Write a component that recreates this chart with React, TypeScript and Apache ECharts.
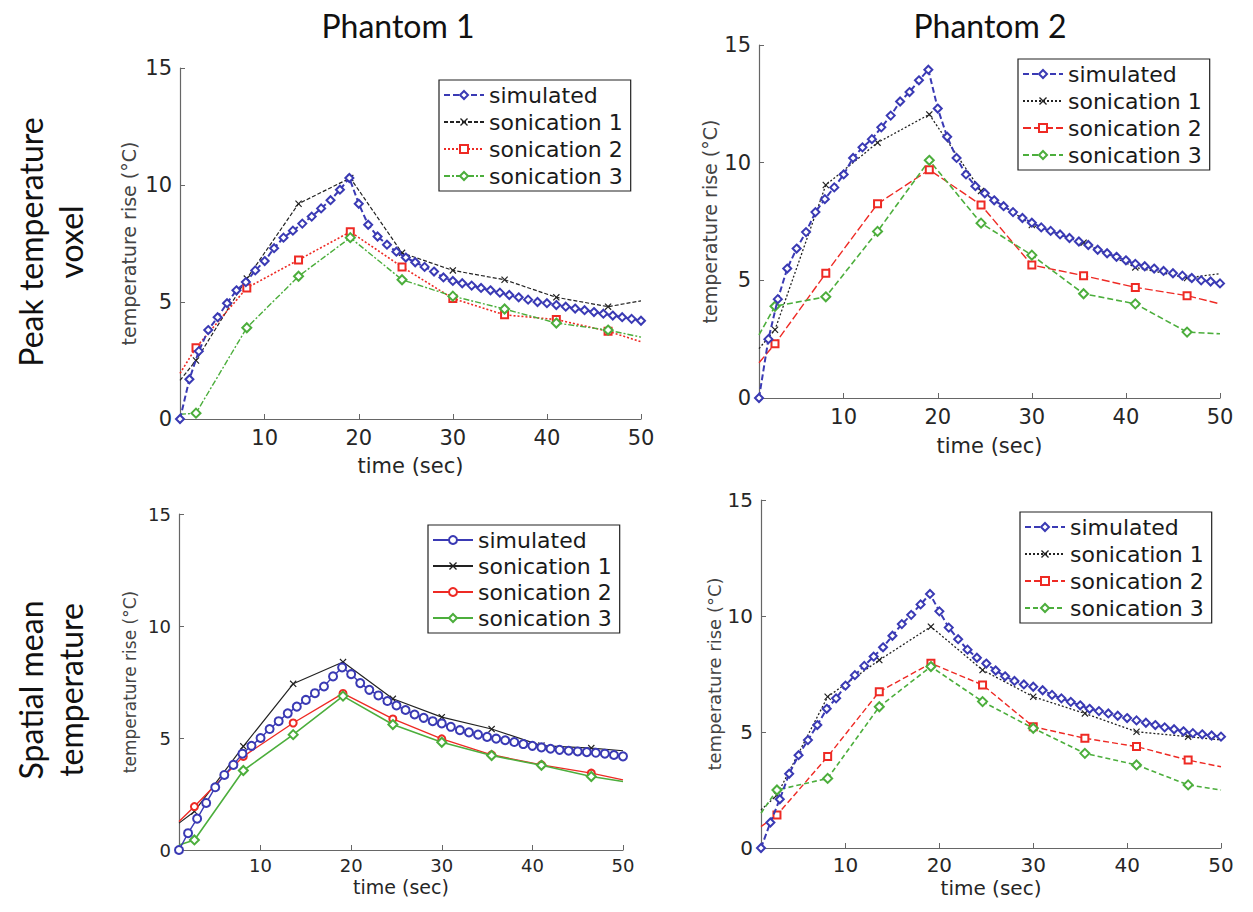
import React, { useEffect, useRef } from 'react';
import * as echarts from 'echarts';

// ---- data (time in seconds, temperature rise in °C) ----
const simTime = [1, 2, 3, 4, 5, 6, 7, 8, 9, 10, 11, 12, 13, 14, 15, 16, 17, 18, 19, 20, 21, 22, 23, 24, 25, 26, 27, 28, 29, 30, 31, 32, 33, 34, 35, 36, 37, 38, 39, 40, 41, 42, 43, 44, 45, 46, 47, 48, 49, 50];
const sonTime = [1, 2.7, 8.1, 13.6, 19.1, 24.6, 30, 35.5, 41, 46.5, 50];
const xTickValues = [10, 20, 30, 40, 50];
const seriesLabels = ['simulated', 'sonication 1', 'sonication 2', 'sonication 3'];
const columnTitles = ['Phantom 1', 'Phantom 2'];
const rowTitles = ['Peak temperature\nvoxel', 'Spatial mean\ntemperature'];

// Phantom 1, peak temperature voxel
const p1PeakSim = [0, 1.7, 2.9, 3.8, 4.35, 4.95, 5.5, 5.85, 6.35, 6.75, 7.3, 7.75, 8.05, 8.35, 8.65, 9.0, 9.35, 9.8, 10.3, 9.2, 8.3, 7.8, 7.45, 7.15, 6.9, 6.7, 6.5, 6.3, 6.05, 5.9, 5.8, 5.7, 5.6, 5.5, 5.4, 5.3, 5.2, 5.1, 5.0, 4.95, 4.87, 4.8, 4.72, 4.65, 4.57, 4.5, 4.42, 4.35, 4.28, 4.2];
const p1PeakSon1 = [1.65, 2.5, 6.0, 9.2, 10.3, 7.1, 6.35, 5.95, 5.2, 4.8, 5.05];
const p1PeakSon2 = [1.95, 3.05, 5.6, 6.8, 8.0, 6.5, 5.15, 4.45, 4.25, 3.75, 3.3];
const p1PeakSon3 = [0.2, 0.25, 3.9, 6.1, 7.75, 5.95, 5.25, 4.7, 4.1, 3.8, 3.5];

// Phantom 2, peak temperature voxel
const p2PeakSim = [0, 2.5, 4.2, 5.5, 6.35, 7.05, 7.9, 8.45, 8.95, 9.5, 10.2, 10.65, 11.0, 11.5, 12.0, 12.6, 13.0, 13.5, 13.95, 12.3, 11.1, 10.2, 9.5, 9.0, 8.7, 8.4, 8.15, 7.9, 7.65, 7.45, 7.25, 7.1, 6.95, 6.8, 6.65, 6.5, 6.3, 6.15, 6.0, 5.85, 5.7, 5.6, 5.5, 5.4, 5.3, 5.2, 5.1, 5.0, 4.95, 4.87];
const p2PeakSon1 = [2.1, 2.9, 9.05, 10.85, 12.05, 8.8, 7.35, 6.6, 5.55, 5.1, 5.28];
const p2PeakSon2 = [1.5, 2.3, 5.3, 8.25, 9.7, 8.2, 5.65, 5.2, 4.7, 4.35, 4.0];
const p2PeakSon3 = [2.68, 3.9, 4.3, 7.08, 10.1, 7.43, 6.07, 4.43, 4.0, 2.8, 2.73];

// Phantom 1, spatial mean temperature
const p1MeanSim = [0, 0.75, 1.4, 2.1, 2.8, 3.35, 3.8, 4.3, 4.65, 5.0, 5.4, 5.75, 6.1, 6.4, 6.7, 7.0, 7.3, 7.75, 8.15, 7.85, 7.45, 7.15, 6.9, 6.65, 6.45, 6.25, 6.05, 5.9, 5.75, 5.65, 5.5, 5.35, 5.25, 5.15, 5.05, 4.97, 4.9, 4.82, 4.73, 4.65, 4.58, 4.52, 4.47, 4.43, 4.4, 4.37, 4.34, 4.3, 4.24, 4.18];
const p1MeanSon1 = [1.2, 1.72, 4.63, 7.42, 8.39, 6.75, 5.93, 5.4, 4.66, 4.55, 4.43];
const p1MeanSon2 = [1.27, 1.94, 4.18, 5.67, 6.99, 5.85, 4.96, 4.25, 3.8, 3.43, 3.13];
const p1MeanSon3 = [0.22, 0.45, 3.55, 5.15, 6.87, 5.6, 4.81, 4.22, 3.78, 3.28, 3.06];

// Phantom 2, spatial mean temperature
const p2MeanSim = [0, 1.1, 2.1, 3.2, 4.0, 4.65, 5.3, 6.0, 6.45, 7.0, 7.45, 7.85, 8.25, 8.65, 9.15, 9.65, 10.05, 10.5, 10.95, 10.2, 9.5, 9.0, 8.55, 8.2, 7.95, 7.65, 7.4, 7.2, 7.05, 6.95, 6.8, 6.6, 6.45, 6.3, 6.15, 6.0, 5.9, 5.8, 5.7, 5.6, 5.5, 5.4, 5.3, 5.2, 5.12, 5.03, 4.95, 4.9, 4.85, 4.8];
const p2MeanSon1 = [1.64, 2.28, 6.52, 8.1, 9.54, 7.67, 6.52, 5.8, 5.01, 4.8, 4.66];
const p2MeanSon2 = [0.92, 1.42, 3.94, 6.74, 7.96, 7.03, 5.23, 4.73, 4.37, 3.79, 3.5];
const p2MeanSon3 = [1.5, 2.5, 3.0, 6.09, 7.82, 6.31, 5.16, 4.08, 3.58, 2.72, 2.5];

// ---- styling ----
const BLUE = '#3a3ab4';
const BLACK = '#222222';
const RED = '#ee2a24';
const GREEN = '#4cae3c';
const XMARK = 'path://M0,1.2L1.2,0L5,3.8L8.8,0L10,1.2L6.2,5L10,8.8L8.8,10L5,6.2L1.2,10L0,8.8L3.8,5Z';
const FONT = 'DejaVu Sans';

type Panel = {
  values: number[][];
  grid: { left: number; top: number; width: number; height: number };
  legend: { left: number; top: number; gap: number };
  fs: number;
  tickFs: number;
  tickMargin: number;
  xGap: number;
  yGap: number;
  types: any[];
  widths: number[];
  simSymbol: string;
  s2Symbol: string;
};

const panels: Panel[] = [
  {
    values: [p1PeakSim, p1PeakSon1, p1PeakSon2, p1PeakSon3],
    grid: { left: 180, top: 68, width: 461, height: 351 },
    legend: { left: 439, top: 80, gap: 5 },
    fs: 21, tickFs: 21, tickMargin: 8, xGap: 36, yGap: 42,
    types: [[6, 3], [4, 2], [2, 2], [6, 2, 2, 2]],
    widths: [2, 1.2, 1.6, 1.4],
    simSymbol: 'emptyDiamond', s2Symbol: 'emptyRect',
  },
  {
    values: [p2PeakSim, p2PeakSon1, p2PeakSon2, p2PeakSon3],
    grid: { left: 759, top: 45, width: 461, height: 353 },
    legend: { left: 1018, top: 59, gap: 5 },
    fs: 21, tickFs: 21, tickMargin: 8, xGap: 37, yGap: 40,
    types: [[6, 3], [2, 2], [8, 3], [6, 3]],
    widths: [2, 1.3, 1.4, 1.6],
    simSymbol: 'emptyDiamond', s2Symbol: 'emptyRect',
  },
  {
    values: [p1MeanSim, p1MeanSon1, p1MeanSon2, p1MeanSon3],
    grid: { left: 179, top: 514, width: 444, height: 336 },
    legend: { left: 428, top: 525, gap: 4 },
    fs: 19, tickFs: 18, tickMargin: 6, xGap: 27, yGap: 41,
    types: ['solid', 'solid', 'solid', 'solid'],
    widths: [1.4, 1.2, 1.4, 1.6],
    simSymbol: 'emptyCircle', s2Symbol: 'emptyCircle',
  },
  {
    values: [p2MeanSim, p2MeanSon1, p2MeanSon2, p2MeanSon3],
    grid: { left: 761, top: 500, width: 460, height: 348 },
    legend: { left: 1020, top: 512, gap: 5 },
    fs: 20, tickFs: 20, tickMargin: 7, xGap: 30, yGap: 36,
    types: [[6, 3], [2, 2], [6, 3], [5, 3]],
    widths: [2, 1.3, 1.4, 1.6],
    simSymbol: 'emptyDiamond', s2Symbol: 'emptyRect',
  },
];

function simPoints(vals: number[]) {
  return simTime.map((t, i) => [t, vals[i]]);
}
function sonPoints(vals: number[]) {
  return sonTime.map((t, i) =>
    i === 0 || i === sonTime.length - 1 ? { value: [t, vals[i]], symbol: 'none' } : [t, vals[i]]
  );
}

function buildOption() {
  const grid: any[] = [];
  const xAxis: any[] = [];
  const yAxis: any[] = [];
  const legend: any[] = [];
  const series: any[] = [];
  const colors = [BLUE, BLACK, RED, GREEN];

  panels.forEach((p, pi) => {
    grid.push({ ...p.grid, containLabel: false });
    xAxis.push({
      type: 'value', gridIndex: pi, min: 1, max: 50,
      name: 'time (sec)', nameLocation: 'middle', nameGap: p.xGap,
      nameTextStyle: { fontFamily: FONT, fontSize: p.fs, color: '#262626' },
      axisLine: { show: true, lineStyle: { color: '#666', width: 1.2 } },
      axisTick: { show: true, inside: true, length: 5, customValues: xTickValues, lineStyle: { color: '#666' } },
      axisLabel: { customValues: xTickValues, fontFamily: FONT, fontSize: p.tickFs, color: '#262626', margin: p.tickMargin },
      splitLine: { show: false },
    });
    yAxis.push({
      type: 'value', gridIndex: pi, min: 0, max: 15, interval: 5,
      name: 'temperature rise (°C)', nameLocation: 'middle', nameGap: p.yGap,
      nameTextStyle: { fontFamily: FONT, fontSize: p.fs - 2, color: '#444' },
      axisLine: { show: true, lineStyle: { color: '#666', width: 1.2 } },
      axisTick: { show: true, inside: true, length: 5, lineStyle: { color: '#666' } },
      axisLabel: { fontFamily: FONT, fontSize: p.tickFs, color: '#262626', margin: 8 },
      splitLine: { show: false },
    });
    const names = seriesLabels.map((s) => s + '|' + pi);
    legend.push({
      show: true, orient: 'vertical', left: p.legend.left, top: p.legend.top,
      data: names, selectedMode: false,
      formatter: (n: string) => n.split('|')[0],
      itemWidth: 40, itemHeight: 10, itemGap: p.legend.gap,
      padding: [4, 8, 4, 4],
      borderColor: '#222', borderWidth: 1.2, backgroundColor: '#fff',
      textStyle: { fontFamily: FONT, fontSize: 22, lineHeight: 22, color: '#1a1a1a' },
    });
    const symbols = [p.simSymbol, XMARK, p.s2Symbol, 'emptyDiamond'];
    const sizes = [8, 7, 7, 9];
    p.values.forEach((vals, si) => {
      series.push({
        type: 'line', name: names[si], xAxisIndex: pi, yAxisIndex: pi,
        data: si === 0 ? simPoints(vals) : sonPoints(vals),
        symbol: symbols[si], symbolSize: sizes[si], showAllSymbol: true,
        lineStyle: { color: colors[si], width: p.widths[si], type: p.types[si] },
        itemStyle: { color: colors[si], borderColor: colors[si], borderWidth: si === 1 ? 0 : 1.3 },
        z: si === 0 ? 3 : 2,
        clip: false,
      });
    });
  });

  const graphic: any[] = [
    { type: 'text', x: 398, y: 25, style: { text: columnTitles[0], font: '32px Lato', fill: '#111', align: 'center', verticalAlign: 'middle' } },
    { type: 'text', x: 990, y: 25, style: { text: columnTitles[1], font: '32px Lato', fill: '#111', align: 'center', verticalAlign: 'middle' } },
    { type: 'text', x: 50, y: 242, rotation: Math.PI / 2, style: { text: rowTitles[0], font: '32px Lato', lineHeight: 40, fill: '#111', align: 'center', verticalAlign: 'middle' } },
    { type: 'text', x: 50, y: 690, rotation: Math.PI / 2, style: { text: rowTitles[1], font: '32px Lato', lineHeight: 40, fill: '#111', align: 'center', verticalAlign: 'middle' } },
  ];

  return { animation: false, backgroundColor: '#fff', grid, xAxis, yAxis, legend, series, graphic };
}

export default function App() {
  const ref = useRef<HTMLDivElement>(null);
  useEffect(() => {
    if (!ref.current) return;
    const chart = echarts.init(ref.current, undefined, { renderer: 'svg' });
    chart.setOption(buildOption() as any);
    return () => chart.dispose();
  }, []);
  return <div ref={ref} style={{ position: 'fixed', left: 0, top: 0, width: 1253, height: 912, background: '#fff' }} />;
}
